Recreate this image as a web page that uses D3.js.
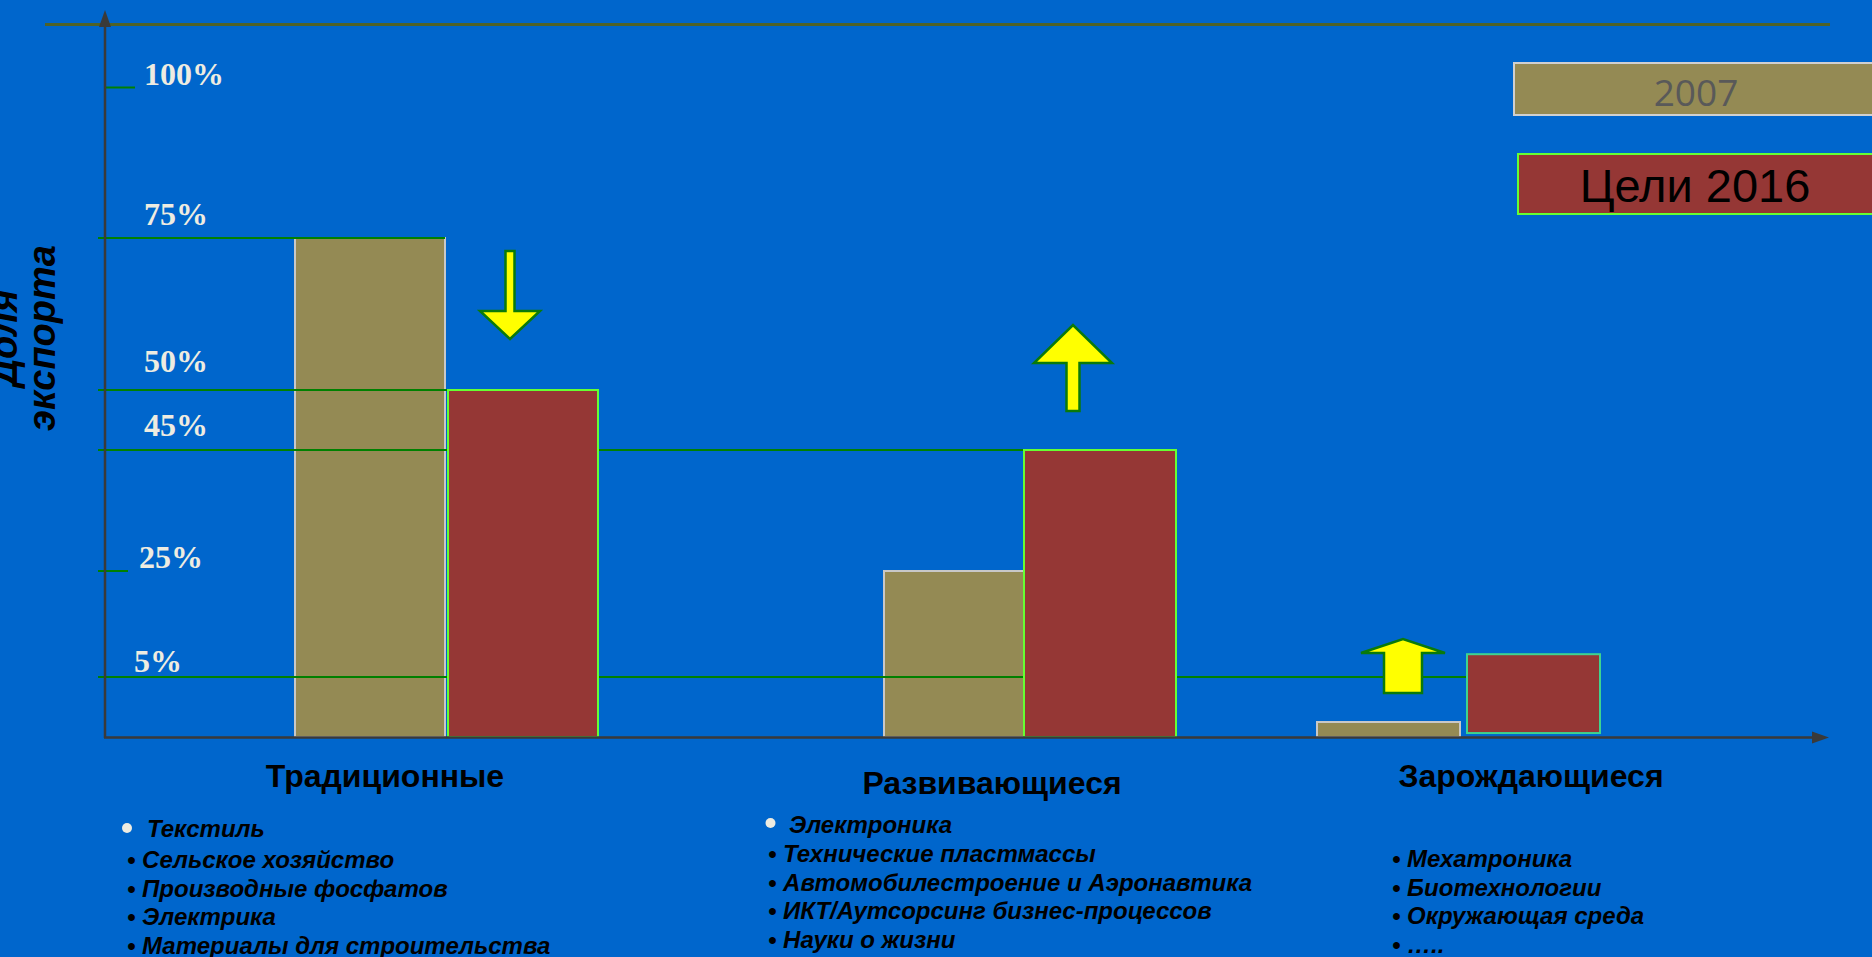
<!DOCTYPE html>
<html>
<head>
<meta charset="utf-8">
<script src="https://cdn.jsdelivr.net/npm/d3@7"></script>
<style>
  body { margin: 0; background: #0066CC; overflow: hidden; }
  svg { display: block; }
</style>
</head>
<body>
<div id="my_dataviz"></div>
<script>
// data
var categories = ["Традиционные", "Развивающиеся", "Зарождающиеся"];
var share2007 = [75, 25, 1.25];
var goals2016 = [50, 45, 9.3];
var goalsBase = [0, 0, 0.33];
var tickLevels = [100, 75, 50, 45, 25, 5];
var tickLabels = ["100%", "75%", "50%", "45%", "25%", "5%"];
var seriesNames = ["2007", "Цели 2016"];
var trend = ["down", "up", "up"];

var traditionalItems = ["Текстиль", "Сельское хозяйство", "Производные фосфатов", "Электрика", "Материалы для строительства"];
var developingItems = ["Электроника", "Технические пластмассы", "Автомобилестроение и Аэронавтика", "ИКТ/Аутсорсинг бизнес-процессов", "Науки о жизни"];
var emergingItems = ["Мехатроника", "Биотехнологии", "Окружающая среда", "….."];

//set dimensions
var width = 1872, height = 957;

var svg = d3.select('#my_dataviz')
.append("svg")
	.attr("width", width)
	.attr("height", height);

svg.append("rect")
	.attr("width", width)
	.attr("height", height)
	.attr("fill", "#0066CC");

// hand drawn slide: the value axis is not linear, so a polylinear scale
var y = d3.scaleLinear()
	.domain([0, 5, 25, 45, 50, 75, 100])
	.range([737, 677, 571, 450, 390, 238, 87.5]);

var x2007 = d3.scaleOrdinal().domain(categories).range([295, 884, 1317]);
var w2007 = d3.scaleOrdinal().domain(categories).range([150, 140, 143]);
var x2016 = d3.scaleOrdinal().domain(categories).range([448, 1024, 1467]);
var w2016 = d3.scaleOrdinal().domain(categories).range([150, 152, 133]);
var xLabel = d3.scaleOrdinal().domain(categories).range([385, 992, 1531]);
var labelBase = [787, 794, 787];

// top rule
svg.append("line")
	.attr("x1", 45).attr("x2", 1830)
	.attr("y1", 24.5).attr("y2", 24.5)
	.attr("stroke", "#4F6228")
	.attr("stroke-width", 3);

// 2007 bars
svg.selectAll(".b2007")
	.data(categories)
	.enter()
	.append("rect")
	.attr("x", function(d) {return x2007(d)})
	.attr("y", function(d, i) {return y(share2007[i])})
	.attr("width", function(d) {return w2007(d)})
	.attr("height", function(d, i) {return y(0) - y(share2007[i])})
	.attr("fill", "#948A54")
	.attr("stroke", "#C8C8C8")
	.attr("stroke-width", 2);

// guide lines
var guideEnd = {
	100: 135,
	75: x2007(categories[0]) + w2007(categories[0]),
	50: x2016(categories[0]),
	45: x2016(categories[1]),
	25: 128,
	5: x2016(categories[2])
};
svg.selectAll(".guide")
	.data(tickLevels)
	.enter()
	.append("line")
	.attr("x1", function(d) {return d == 100 ? 105 : 98})
	.attr("x2", function(d) {return guideEnd[d]})
	.attr("y1", function(d) {return y(d)})
	.attr("y2", function(d) {return y(d)})
	.attr("stroke", "#008000")
	.attr("stroke-width", 2);

var labelX = [144, 144, 144, 144, 139, 134];
var labelDy = [-2.5, -13, -18, -14, -3, -5];
svg.selectAll(".tlab")
	.data(tickLevels)
	.enter()
	.append("text")
	.attr("x", function(d, i) {return labelX[i]})
	.attr("y", function(d, i) {return y(d) + labelDy[i]})
	.attr("font-family", "'Liberation Serif', 'Times New Roman', serif")
	.attr("font-weight", "bold")
	.attr("font-size", 32)
	.attr("fill", "#EEECE1")
	.text(function(d, i) {return tickLabels[i]});

// 2016 bars
svg.selectAll(".b2016")
	.data(categories)
	.enter()
	.append("rect")
	.attr("x", function(d) {return x2016(d)})
	.attr("y", function(d, i) {return y(goals2016[i])})
	.attr("width", function(d) {return w2016(d)})
	.attr("height", function(d, i) {return y(goalsBase[i]) - y(goals2016[i])})
	.attr("fill", "#953735")
	.attr("stroke", function(d, i) {return i == 2 ? "#3FD38F" : "#66FF33"})
	.attr("stroke-width", 2);

// axes with arrow heads
var axisColor = "#3A3A3A";
svg.append("line")
	.attr("x1", 105).attr("x2", 105)
	.attr("y1", y(0) + 1).attr("y2", 25)
	.attr("stroke", axisColor).attr("stroke-width", 2.5);
svg.append("path")
	.attr("d", "M105,10 L99,27 L111,27 Z")
	.attr("fill", axisColor);
svg.append("line")
	.attr("x1", 104).attr("x2", 1814)
	.attr("y1", y(0) + 0.5).attr("y2", y(0) + 0.5)
	.attr("stroke", axisColor).attr("stroke-width", 2.5);
svg.append("path")
	.attr("d", "M1829," + (y(0) + 0.5) + " L1812," + (y(0) - 5.5) + " L1812," + (y(0) + 6.5) + " Z")
	.attr("fill", axisColor);

// trend arrows
var arrowGeom = [
	{cx: 510, tail: 251, base: 311, tip: 339, head: 30, shaft: 4.5},
	{cx: 1073, tail: 411, base: 363, tip: 325, head: 39, shaft: 6.5},
	{cx: 1403, tail: 693, base: 653, tip: 639, head: 42, shaft: 19}
];
svg.selectAll(".arrow")
	.data(trend)
	.enter()
	.append("path")
	.attr("d", function(d, i) {
		var a = arrowGeom[i];
		return "M" + (a.cx - a.shaft) + "," + a.tail +
			" L" + (a.cx + a.shaft) + "," + a.tail +
			" L" + (a.cx + a.shaft) + "," + a.base +
			" L" + (a.cx + a.head) + "," + a.base +
			" L" + a.cx + "," + a.tip +
			" L" + (a.cx - a.head) + "," + a.base +
			" L" + (a.cx - a.shaft) + "," + a.base + " Z";
	})
	.attr("fill", "#FFFF00")
	.attr("stroke", "#0A7A0A")
	.attr("stroke-width", 2.5)
	.attr("stroke-linejoin", "miter");

// y title
var yTitle = ["Доля", "экспорта"];
svg.selectAll(".ytitle")
	.data(yTitle)
	.enter()
	.append("text")
	.attr("transform", function(d, i) {return "translate(" + (16.5 + i * 38.5) + ",338) rotate(-90)"})
	.attr("text-anchor", "middle")
	.attr("font-family", "'Liberation Sans', Arial, sans-serif")
	.attr("font-weight", "bold")
	.attr("font-style", "italic")
	.attr("font-size", 38)
	.attr("fill", "#000")
	.text(function(d) {return d});

// category labels
svg.selectAll(".cat")
	.data(categories)
	.enter()
	.append("text")
	.attr("x", function(d) {return xLabel(d)})
	.attr("y", function(d, i) {return labelBase[i]})
	.attr("text-anchor", "middle")
	.attr("font-family", "'Liberation Sans', Arial, sans-serif")
	.attr("font-weight", "bold")
	.attr("font-size", 32)
	.attr("fill", "#000")
	.text(function(d) {return d});

// item lists
var lists = [
	{items: traditionalItems, x: 127, first: 837, top: 868, dot: [127, 828], firstX: 147},
	{items: developingItems, x: 768, first: 833, top: 862, dot: [770.5, 823], firstX: 789},
	{items: emergingItems, x: 1392, first: 867, top: 867, dot: null, firstX: 1392}
];
lists.forEach(function(l) {
	var g = svg.append("g")
		.attr("font-family", "'Liberation Sans', Arial, sans-serif")
		.attr("font-weight", "bold")
		.attr("font-style", "italic")
		.attr("font-size", 24)
		.attr("fill", "#000");
	g.selectAll("text")
		.data(l.items)
		.enter()
		.append("text")
		.attr("x", function(d, i) {return (i == 0 && l.dot) ? l.firstX : l.x})
		.attr("y", function(d, i) {return (i == 0 && l.dot) ? l.first : l.top + (l.dot ? i - 1 : i) * 28.7})
		.text(function(d, i) {return (i == 0 && l.dot) ? d : "• " + d});
	if (l.dot) {
		g.append("circle")
			.attr("cx", l.dot[0]).attr("cy", l.dot[1])
			.attr("r", 5)
			.attr("fill", "#EEECE1");
	}
});

// legend
var legendBox = [
	{y: 63, h: 52, fill: "#948A54", stroke: "#D0D0D0", x: 1514, tx: 1696, ty: 106, size: 37, color: "#595959", font: "'Open Sans', sans-serif"},
	{y: 154, h: 60, fill: "#953735", stroke: "#66FF33", x: 1518, tx: 1695, ty: 202, size: 47, color: "#000", font: "'Liberation Sans', Arial, sans-serif"}
];
var leg = svg.selectAll(".leg")
	.data(seriesNames)
	.enter()
	.append("g");
leg.append("rect")
	.attr("x", function(d, i) {return legendBox[i].x})
	.attr("y", function(d, i) {return legendBox[i].y})
	.attr("width", 400)
	.attr("height", function(d, i) {return legendBox[i].h})
	.attr("fill", function(d, i) {return legendBox[i].fill})
	.attr("stroke", function(d, i) {return legendBox[i].stroke})
	.attr("stroke-width", 2);
leg.append("text")
	.attr("x", function(d, i) {return legendBox[i].tx})
	.attr("y", function(d, i) {return legendBox[i].ty})
	.attr("text-anchor", "middle")
	.attr("font-family", function(d, i) {return legendBox[i].font})
	.attr("font-size", function(d, i) {return legendBox[i].size})
	.attr("fill", function(d, i) {return legendBox[i].color})
	.text(function(d) {return d});
</script>
</body>
</html>
